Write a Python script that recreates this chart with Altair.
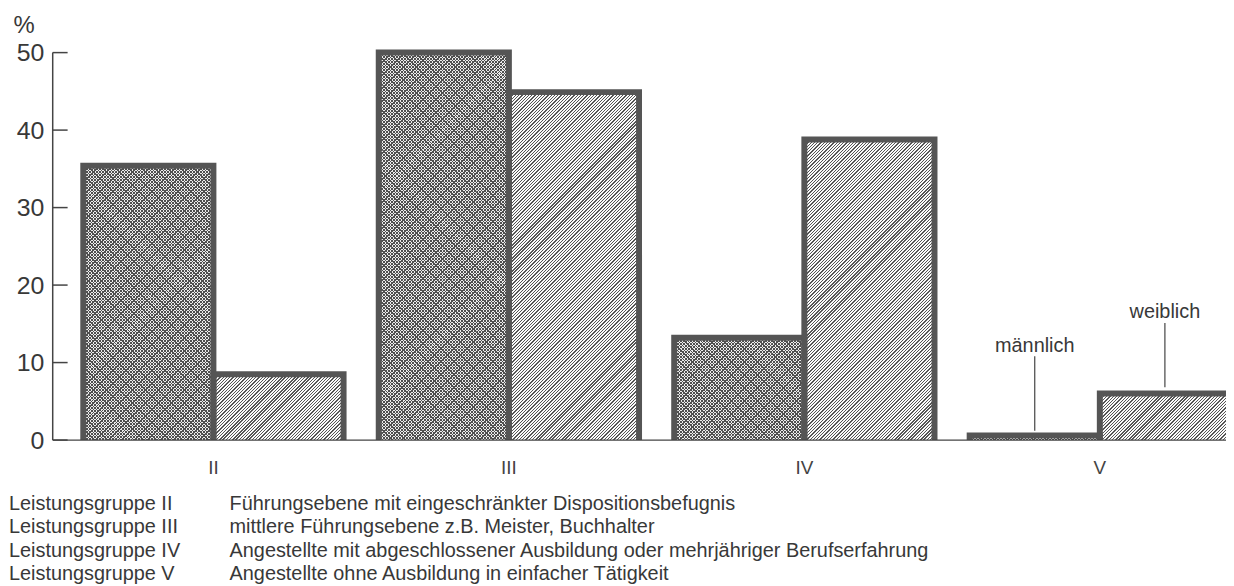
import math
import altair as alt
import pandas as pd

# ---------------- data ----------------
groups = ["II", "III", "IV", "V"]
sexes = ["männlich", "weiblich"]
male = [35.4, 50.0, 13.2, 0.6]
female = [8.5, 44.9, 38.8, 6.0]
y_ticks = [0, 10, 20, 30, 40, 50]

legend_groups = [
    "Leistungsgruppe II",
    "Leistungsgruppe III",
    "Leistungsgruppe IV",
    "Leistungsgruppe V",
]
legend_texts = [
    "Führungsebene mit eingeschränkter Dispositionsbefugnis",
    "mittlere Führungsebene z.B. Meister, Buchhalter",
    "Angestellte mit abgeschlossener Ausbildung oder mehrjähriger Berufserfahrung",
    "Angestellte ohne Ausbildung in einfacher Tätigkeit",
]

df = pd.DataFrame({
    "gruppe": groups * 2,
    "geschlecht": [sexes[0]] * 4 + [sexes[1]] * 4,
    "wert": male + female,
})

# annotation for group V (pointer lines + labels)
ann = pd.DataFrame({
    "gruppe": ["V", "V"],
    "geschlecht": sexes,
    "label": sexes,
    "wert": [male[3], female[3]],
})
ann["y0"] = ann["wert"] + pd.Series([0.6, 0.8])
ann["y1"] = ann["wert"] + pd.Series([10.2, 9.1])
ann["ty"] = ann["wert"] + pd.Series([10.7, 9.8])

# ---------------- style ----------------
W, H = 1181, 429
YMAX = 55
BAR_FLOOR = -1
FONT = "Liberation Sans"
TXT = "#383838"
LINE = "#444444"
EDGE = "#555555"

R0, R1 = 4, 1185
P_IN, P_OUT = 0.119, 0.045
xscale = alt.Scale(domain=groups, range=[R0, R1], paddingInner=P_IN,
                   paddingOuter=P_OUT, align=1)
yscale = alt.Scale(domain=[0, YMAX], nice=False, zero=True)
offscale = alt.Scale(domain=sexes, paddingInner=0, paddingOuter=0)

x_axis = alt.Axis(title=None, domain=False, ticks=False, labelAngle=0,
                  labelFont=FONT, labelFontSize=19, labelColor="#444444",
                  labelPadding=19)
y_axis = alt.Axis(title="%", values=y_ticks, domain=False, ticks=False,
                  tickSize=0, grid=False, labelFont=FONT, labelFontSize=25,
                  labelColor=TXT, labelPadding=9, titleAngle=0, titleX=-40,
                  titleY=19, titleAlign="left", titleBaseline="alphabetic",
                  titleFont=FONT, titleFontSize=24, titleFontWeight="normal",
                  titleColor=TXT)


def X():
    return alt.X("gruppe:N", scale=xscale, sort=groups, axis=x_axis)


def XO():
    return alt.XOffset("geschlecht:N", scale=offscale, sort=sexes)


def Y(field):
    return alt.Y(field, scale=yscale, axis=y_axis)


# ------------- hatch fills: small square tiles with sharp-stop gradients -------
NSUB = 4                                   # tiles across one bar
subs = [f"{s}{j}" for s in sexes for j in range(NSUB)]
subscale = alt.Scale(domain=subs, paddingInner=0, paddingOuter=0)

step = (R1 - R0) / (len(groups) - P_IN + 2 * P_OUT)
BAR_W = step * (1 - P_IN) / len(sexes)     # px width of one bar
TW = BAR_W / NSUB                          # px width of one tile
px_per_unit = H / YMAX
PERIOD = TW / 10                           # stripe spacing (px, horizontal)
TH = 10 * PERIOD                           # tile height = whole periods
OVER = 1.0


def hatch(w, h, period, frac, dark, light, direction):
    L = w + h
    k = L / (w * w + h * h)
    stops = []
    n = int(math.ceil(L / period))
    for j in range(n):
        s = j * period / L
        m = min(1.0, s + frac * period / L)
        e = min(1.0, (j + 1) * period / L)
        stops += [alt.GradientStop(offset=round(s, 5), color=dark),
                  alt.GradientStop(offset=round(m, 5), color=dark),
                  alt.GradientStop(offset=round(m, 5), color=light),
                  alt.GradientStop(offset=round(e, 5), color=light)]
    if direction == "up":      # stripes like '/'
        return alt.LinearGradient(gradient="linear", stops=stops,
                                  x1=0, y1=0, x2=k * w, y2=k * h)
    return alt.LinearGradient(gradient="linear", stops=stops,   # like '\'
                              x1=0, y1=1, x2=k * w, y2=1 - k * h)


def tiles(frame, overlap_px):
    s = TH / px_per_unit
    o = overlap_px / px_per_unit
    rows = []
    for _, r in frame.iterrows():
        k = 0
        while r["wert"] - k * s > 0:
            top = r["wert"] - k * s
            for j in range(NSUB):
                rows.append({"gruppe": r["gruppe"],
                             "sub": f"{r['geschlecht']}{j}",
                             "top": top, "bot": top - s - o})
            k += 1
    return pd.DataFrame(rows)


df_m = df[df["geschlecht"] == sexes[0]]
df_w = df[df["geschlecht"] == sexes[1]]

g_m_up = hatch(TW + OVER, TH + OVER, PERIOD, 0.38, "#4f4f4f", "#ececec", "up")
g_m_dn = hatch(TW, TH, PERIOD, 0.38, "#4f4f4f", "rgba(255,255,255,0)", "down")
g_w_up = hatch(TW + OVER, TH + OVER, PERIOD, 0.40, "#555555", "#fafafa", "up")


def tile_layer(frame, grad, width):
    return alt.Chart(frame).mark_bar(clip=True, fill=grad, width=width).encode(
        x=X(),
        xOffset=alt.XOffset("sub:N", scale=subscale, sort=subs),
        y=Y("top:Q"), y2="bot:Q")


m_base = tile_layer(tiles(df_m, OVER), g_m_up, TW + OVER)
m_over = tile_layer(tiles(df_m, 0), g_m_dn, TW)
w_base = tile_layer(tiles(df_w, OVER), g_w_up, TW + OVER)

outlines = alt.Chart(df).mark_bar(
    clip=True, fillOpacity=0, stroke=EDGE, strokeWidth=6, strokeJoin="miter"
).encode(x=X(), xOffset=XO(), y=Y("wert:Q"), y2=alt.datum(BAR_FLOOR))

tick_rules = alt.Chart(pd.DataFrame({"v": y_ticks})).mark_rule(
    color=LINE, strokeWidth=1.5
).encode(y=Y("v:Q"), x=alt.value(0), x2=alt.value(15))

axis_df = pd.DataFrame({"lo": [0], "hi": [y_ticks[-1]]})

y_line = alt.Chart(axis_df).mark_rule(color=LINE, strokeWidth=1.5).encode(
    x=alt.value(0), y=Y("lo:Q"), y2="hi:Q")

base_line = alt.Chart(axis_df).mark_rule(color=LINE, strokeWidth=1.3).encode(
    x=alt.value(0), x2=alt.value(W), y=Y("lo:Q"))

ann_lines = alt.Chart(ann).mark_rule(color=LINE, strokeWidth=1.2).encode(
    x=X(), xOffset=XO(), y=Y("y0:Q"), y2="y1:Q")


def ann_label(sex, shift):
    return alt.Chart(ann[ann["geschlecht"] == sex]).mark_text(
        font=FONT, fontSize=20, color=TXT, baseline="alphabetic",
        align="center", dx=shift
    ).encode(x=X(), y=Y("ty:Q"), text="label:N")


ann_text_m = ann_label(sexes[0], -BAR_W / 2)
ann_text_w = ann_label(sexes[1], BAR_W / 2)

leg1 = alt.Chart(pd.DataFrame({"a": [0]})).mark_text(
    text=legend_groups, align="left", baseline="alphabetic", font=FONT,
    fontSize=20, color=TXT, lineHeight=23.7
).encode(x=alt.value(-44), y=alt.value(499))

leg2 = alt.Chart(pd.DataFrame({"a": [0]})).mark_text(
    text=legend_texts, align="left", baseline="alphabetic", font=FONT,
    fontSize=20, color=TXT, lineHeight=23.7
).encode(x=alt.value(178), y=alt.value(499))

chart = alt.layer(
    m_base, m_over, w_base, outlines, tick_rules, y_line, base_line,
    ann_lines, ann_text_m, ann_text_w, leg1, leg2
).resolve_scale(
    xOffset="independent"
).properties(
    width=W, height=H,
    autosize=alt.AutoSizeParams(type="none"),
    padding={"left": 45, "top": 4, "right": 0, "bottom": 145},
    background="white",
).configure_view(strokeOpacity=0)

chart.save("out.html", embed_options={"renderer": "svg", "actions": False})
